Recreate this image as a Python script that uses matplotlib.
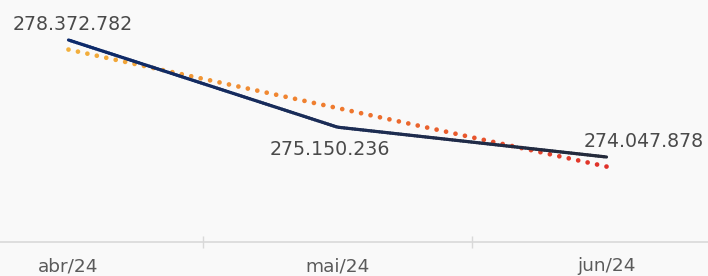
import numpy as np
import matplotlib
matplotlib.use("Agg")
import matplotlib.pyplot as plt
from matplotlib.collections import LineCollection
from matplotlib.colors import LinearSegmentedColormap

# ---------------- Data ----------------
months = ["abr/24", "mai/24", "jun/24"]
values = [278372782, 275150236, 274047878]
value_labels = ["278.372.782", "275.150.236", "274.047.878"]

BG = "#f9f9f9"
plt.rcParams["font.family"] = ["DejaVu Sans"]

fig = plt.figure(figsize=(7.08, 2.76), dpi=100, facecolor=BG)
# plot area is wider than the image (cropped on both sides)
ax = fig.add_axes([-66 / 708, 34 / 276, 807 / 708, 242 / 276])
ax.set_facecolor(BG)

x = np.arange(len(values))
y = np.array(values, dtype=float)

# ---------------- Trend line (dotted, orange -> red) ----------------
slope, intercept = np.polyfit(x, y, 1)
tx = np.linspace(0, len(values) - 1, 58)
ty = intercept + slope * tx
trend_cmap = LinearSegmentedColormap.from_list("trend", ["#f2b03c", "#ef7a2e", "#e0312a"])
ax.scatter(tx, ty, c=tx, cmap=trend_cmap, s=11, linewidths=0, zorder=2)

# ---------------- Main line (navy gradient) ----------------
fx = np.linspace(0, len(values) - 1, 200)
fy = np.interp(fx, x, y)
pts = np.column_stack([fx, fy]).reshape(-1, 1, 2)
segs = np.concatenate([pts[:-1], pts[1:]], axis=1)
line_cmap = LinearSegmentedColormap.from_list("line", ["#0c2a6c", "#1b2c55", "#242a3a"])
lc = LineCollection(segs, cmap=line_cmap, linewidths=2.3, capstyle="round", zorder=3)
lc.set_array(fx[:-1])
ax.add_collection(lc)

# ---------------- Data labels ----------------
offsets = [(4, 16), (-8, -22), (37, 16)]
for xi, yi, lab, off in zip(x, y, value_labels, offsets):
    ax.annotate(lab, (xi, yi), xytext=off, textcoords="offset pixels",
                ha="center", va="center", fontsize=13.7, color="#4a4a4a")

# ---------------- Axes ----------------
ax.set_xlim(-0.5, 2.5)
ax.set_ylim(270905942, 279851382)
for side in ["top", "right", "left"]:
    ax.spines[side].set_visible(False)
ax.spines["bottom"].set_color("#d9d9d9")
ax.spines["bottom"].set_linewidth(1.2)
ax.set_yticks([])
ax.set_xticks(x)
ax.set_xticklabels(months, fontsize=13.3, color="#5a5a5a")
ax.tick_params(axis="x", which="major", length=0, pad=11)
ax.set_xticks([0.5, 1.5], minor=True)
ax.tick_params(axis="x", which="minor", direction="inout", length=8.5, width=1, color="#d9d9d9")

fig.savefig("out.png", dpi=100, facecolor=BG)
